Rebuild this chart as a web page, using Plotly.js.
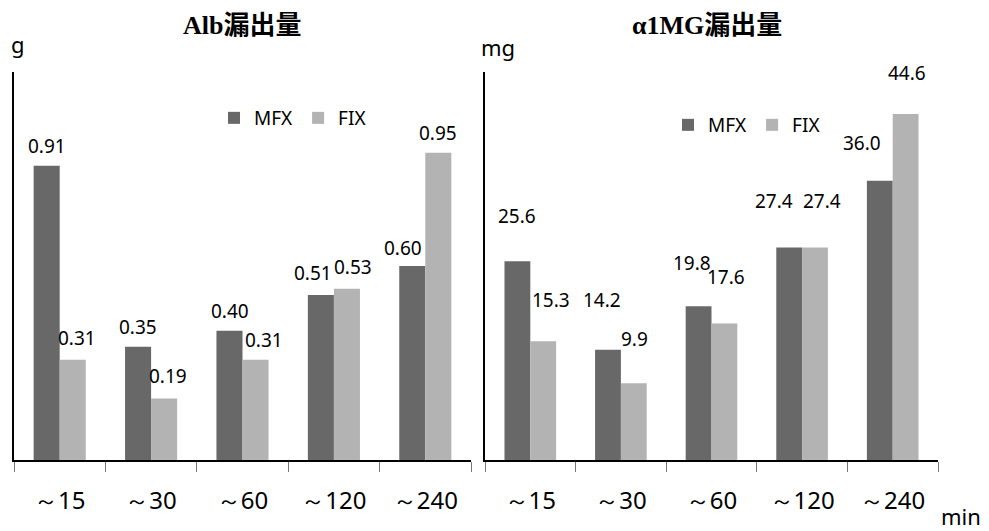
<!DOCTYPE html>
<html>
<head>
<meta charset="utf-8">
<script src="https://cdn.plot.ly/plotly-3.0.1.min.js"></script>
<style>html,body{margin:0;padding:0;background:#fff;}</style>
</head>
<body>
<div id="chart" style="width:989px;height:531px;"></div>
<script>
// ---- data ----
const categories = ['～15', '～30', '～60', '～120', '～240'];
const seriesNames = ['MFX', 'FIX'];
const albMFX = [0.91, 0.35, 0.40, 0.51, 0.60];
const albFIX = [0.31, 0.19, 0.31, 0.53, 0.95];
const a1mgMFX = [25.6, 14.2, 19.8, 27.4, 36.0];
const a1mgFIX = [15.3, 9.9, 17.6, 27.4, 44.6];
const titleLeft = 'Alb漏出量';
const titleRight = 'α1MG漏出量';
const unitLeft = 'g';
const unitRight = 'mg';
const unitX = 'min';

// ---- style ----
const colMFX = '#686868';
const colFIX = '#b3b3b3';
const FONT = '"Noto Sans", "Open Sans", sans-serif';
const TITLEFONT = '"Liberation Serif", "DejaVu Serif", "Noto Sans CJK JP", serif';
const halfBar = 13;
// label nudges [dx, dy] in px (dy = distance of label centre above bar top)
const nudgeAlbMFX = [[0,20],[0,20],[0,20],[-8,22],[-9,18]];
const nudgeAlbFIX = [[4,22],[4,23],[8,20],[6,22],[0,20]];
const nudgeA1MFX = [[0,45],[-6,50],[-7,43],[-15,46],[-18,38]];
const nudgeA1FIX = [[8,41],[1,44],[1,46],[7,46],[1,41]];

function bar(y, name, color, xa, ya, leg) {
  return {type:'bar', x:categories, y:y, name:name, xaxis:xa, yaxis:ya, legend:leg,
    marker:{color:color, line:{width:0}}, hoverinfo:'y'};
}
const traces = [
  bar(albMFX, seriesNames[0], colMFX, 'x', 'y', 'legend'),
  bar(albFIX, seriesNames[1], colFIX, 'x', 'y', 'legend'),
  bar(a1mgMFX, seriesNames[0], colMFX, 'x2', 'y2', 'legend2'),
  bar(a1mgFIX, seriesNames[1], colFIX, 'x2', 'y2', 'legend2')
];

const annotations = [];
function labels(vals, nud, side, xr, yr, dec) {
  vals.forEach((v, i) => {
    annotations.push({x:categories[i], y:v, xref:xr, yref:yr, text:v.toFixed(dec),
      showarrow:false, xanchor:'center', yanchor:'middle',
      xshift: side*halfBar + nud[i][0], yshift: nud[i][1],
      font:{family:FONT, size:19, color:'#000'}});
  });
}
labels(albMFX, nudgeAlbMFX, -1, 'x', 'y', 2);
labels(albFIX, nudgeAlbFIX, 1, 'x', 'y', 2);
labels(a1mgMFX, nudgeA1MFX, -1, 'x2', 'y2', 1);
labels(a1mgFIX, nudgeA1FIX, 1, 'x2', 'y2', 1);

const W = 989, H = 531;
function px(x){return x/W;}
function py(y){return 1 - y/H;}
annotations.push({xref:'paper', yref:'paper', x:px(242), y:py(25), text:'<b>'+titleLeft+'</b>', showarrow:false,
  xanchor:'center', yanchor:'middle', font:{family:TITLEFONT, size:26, color:'#000'}});
annotations.push({xref:'paper', yref:'paper', x:px(707), y:py(25), text:'<b>'+titleRight+'</b>', showarrow:false,
  xanchor:'center', yanchor:'middle', font:{family:TITLEFONT, size:26, color:'#000'}});
annotations.push({xref:'paper', yref:'paper', x:px(18), y:py(44), text:unitLeft, showarrow:false,
  xanchor:'center', yanchor:'middle', font:{family:FONT, size:22, color:'#000'}});
annotations.push({xref:'paper', yref:'paper', x:px(498), y:py(47), text:unitRight, showarrow:false,
  xanchor:'center', yanchor:'middle', font:{family:FONT, size:22, color:'#000'}});
annotations.push({xref:'paper', yref:'paper', x:px(961), y:py(516), text:unitX, showarrow:false,
  xanchor:'center', yanchor:'middle', font:{family:FONT, size:22, color:'#000'}});

const yDom = [1 - 460/H, 1 - 72/H];
function xax(dom, anchor) {
  return {domain:dom, anchor:anchor, type:'category', showline:true, linecolor:'#000', linewidth:2,
    ticks:'outside', tickson:'boundaries', ticklen:10, tickcolor:'#777', tickwidth:1,
    tickfont:{family:FONT, size:24, color:'#000'}, ticklabelstandoff:18,
    showgrid:false, zeroline:false, fixedrange:true};
}
function yax(dom, anchor, range) {
  return {domain:dom, anchor:anchor, range:range, showline:true, linecolor:'#000', linewidth:2,
    showticklabels:false, ticks:'', showgrid:false, zeroline:false, fixedrange:true};
}
const legendBase = {orientation:'h', xanchor:'left', yanchor:'middle', bgcolor:'rgba(0,0,0,0)',
  font:{family:FONT, size:19, color:'#000'}, itemclick:false, itemdoubleclick:false, traceorder:'normal'};

const layout = {
  width:W, height:H, margin:{l:0, r:0, t:0, b:0},
  paper_bgcolor:'#fff', plot_bgcolor:'rgba(0,0,0,0)',
  barmode:'group', bargap:0.43, bargroupgap:0,
  showlegend:true,
  xaxis: xax([px(14), px(471)], 'y'),
  yaxis: yax(yDom, 'x', [0, 1.2]),
  xaxis2: xax([px(485), px(938)], 'y2'),
  yaxis2: yax(yDom, 'x2', [0, 50]),
  legend: Object.assign({}, legendBase, {x:px(214), y:py(118)}),
  legend2: Object.assign({}, legendBase, {x:px(668), y:py(125)}),
  annotations: annotations
};
Plotly.newPlot('chart', traces, layout, {displayModeBar:false, staticPlot:true});
</script>
</body>
</html>
